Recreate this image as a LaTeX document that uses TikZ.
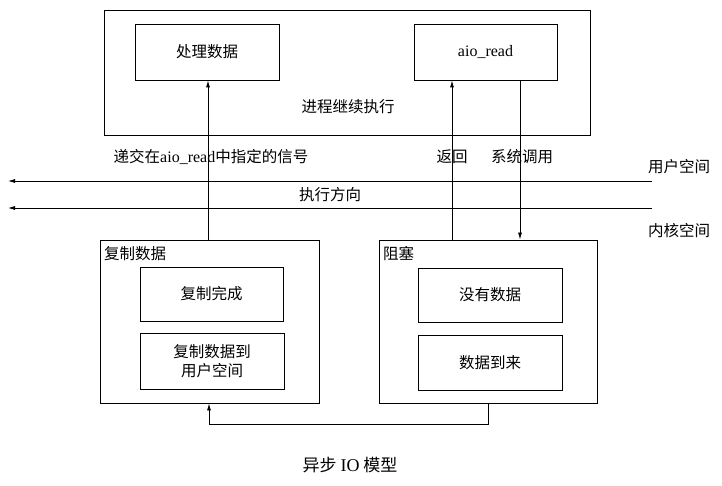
\documentclass[tikz,border=0pt]{standalone}
\usepackage{fontspec}
\setmainfont{Noto Sans CJK SC}
\newfontfamily\latf{Liberation Serif}
\newcommand\lat{\latf\fontsize{16}{19}\selectfont}
\usetikzlibrary{arrows.meta}
\begin{document}
\begin{tikzpicture}[x=1pt,y=-1pt,
  every node/.style={font=\fontsize{15.5}{19}\selectfont, inner sep=0pt},
  box/.style={draw, line width=0.8pt},
  arr/.style={line width=0.8pt, -{Latex[length=7pt,width=4pt]}}]
\useasboundingbox (0,0) rectangle (722,486);
% top
\node[box, minimum width=486, minimum height=125] (outer) at (347,72.5) {};
\node[box, minimum width=144, minimum height=56] (proc) at (207,52) {处理数据};
\node[box, minimum width=143, minimum height=56] (aio) at (485.5,52) {\lat aio\_read};
\node (cont) at (348,107) {进程继续执行};
% bottom left
\node[box, minimum width=219, minimum height=163] (lbox) at (209.5,321.5) {};
\node[anchor=north west] (lbl) at (104,246) {复制数据};
\node[box, minimum width=143, minimum height=54] (done) at (211.5,294) {复制完成};
\node[box, minimum width=144, minimum height=56, align=center] (copy) at (212,361) {复制数据到\\用户空间};
% bottom right
\node[box, minimum width=218, minimum height=163] (rbox) at (488,321.5) {};
\node[anchor=north west] (rbl) at (383,246) {阻塞};
\node[box, minimum width=144, minimum height=54] (nodata) at (490,295) {没有数据};
\node[box, minimum width=144, minimum height=55] (arrive) at (490,362.5) {数据到来};
% labels
\node (sig) at (211,157) {递交在{\lat aio\_read}中指定的信号};
\node (ret) at (452,157) {返回};
\node (sys) at (522,157) {系统调用};
\node (user) at (679,167) {用户空间};
\node (kern) at (679,231) {内核空间};
\node (dir) at (330,195) {执行方向};
\node[font=\fontsize{17}{20}\selectfont] (cap) at (350,465) {异步 {\latf\fontsize{18}{20}\selectfont IO} 模型};
% coordinates
\coordinate (xa) at (208,0);
\coordinate (xr) at (452,0);
\coordinate (xs) at (520,0);
\coordinate (xb) at (488,0);
\coordinate (xc) at (209,0);
\coordinate (u1) at (652,181);
\coordinate (u2) at (8,181);
\coordinate (k1) at (652,208);
\coordinate (k2) at (8,208);
% connectors
\draw[arr] (u1) -- (u2);
\draw[arr] (k1) -- (k2);
\draw[arr] (lbox.north -| xa) -- (proc.south -| xa);
\draw[arr] (rbox.north -| xr) -- (aio.south -| xr);
\draw[arr] (aio.south -| xs) -- (rbox.north -| xs);
\draw[arr] (rbox.south -| xb) -- ++(0,21) -| (lbox.south -| xc);
\end{tikzpicture}
\end{document}
